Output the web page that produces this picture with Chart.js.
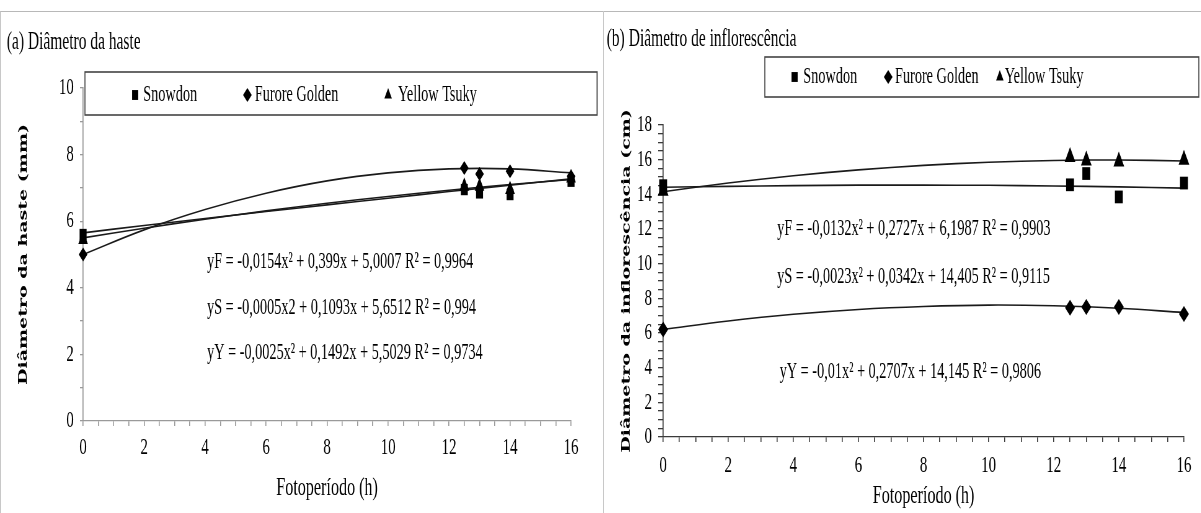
<!DOCTYPE html>
<html>
<head>
<meta charset="utf-8">
<script src="https://cdn.jsdelivr.net/npm/chart.js@4.4.1/dist/chart.umd.min.js"></script>
<style>
  html, body { margin: 0; padding: 0; background: #fff; }
  body { width: 1201px; height: 513px; position: relative; overflow: hidden; }
  .panel { position: absolute; top: 0; height: 513px; overflow: hidden; }
  #panelA { left: 0; width: 603px; }
  #panelB { left: 603px; width: 598px; }
  /* the original figure is squeezed horizontally, so the canvases are too */
  .panel canvas { position: absolute; left: 0; top: 0; transform: scaleX(0.62); transform-origin: 0 0; }
  .frame { position: absolute; left: 0; top: 11px; width: 1201px; height: 502px;
           border-top: 1px solid #b8b8b8; border-left: 1px solid #c8c8c8; box-sizing: border-box; }
  .sep { position: absolute; left: 603px; top: 11px; width: 1px; height: 502px; background: #c8c8c8; }
</style>
</head>
<body>
<div class="frame"></div>
<div class="sep"></div>
<div class="panel" id="panelA"><canvas id="chartA" width="973" height="513"></canvas></div>
<div class="panel" id="panelB"><canvas id="chartB" width="965" height="513"></canvas></div>

<script>
const hours = [0, 12.5, 13, 14, 16];
const curveHours = [0, 2, 4, 6, 8, 10, 12, 14, 16];
const cultivars = ['Snowdon', 'Furore Golden', 'Yellow Tsuky'];

// (a) stem diameter, mm
const hasteSnowdon = [5.6, 6.95, 6.85, 6.8, 7.2];
const hasteFurore  = [5.0, 7.6, 7.42, 7.5, 7.35];
const hasteYellow  = [5.45, 7.05, 7.05, 6.95, 7.3];
const hasteSnowdonCurve = [5.65, 5.87, 6.08, 6.29, 6.49, 6.69, 6.89, 7.08, 7.27];
const hasteFuroreCurve  = [5.0, 5.74, 6.35, 6.84, 7.21, 7.45, 7.57, 7.57, 7.45];
const hasteYellowCurve  = [5.5, 5.79, 6.06, 6.31, 6.54, 6.74, 6.93, 7.1, 7.25];
const hasteEquations = [
  'yF = -0,0154x² + 0,399x + 5,0007 R² = 0,9964',
  'yS = -0,0005x2 + 0,1093x + 5,6512 R² = 0,994',
  'yY = -0,0025x² + 0,1492x + 5,5029 R² = 0,9734'
];

// (b) inflorescence diameter, cm
const inflSnowdon = [14.5, 14.55, 15.2, 13.85, 14.65];
const inflFurore  = [6.2, 7.45, 7.5, 7.5, 7.1];
const inflYellow  = [14.2, 16.15, 15.95, 15.9, 16.0];
const inflSnowdonCurve = [14.41, 14.46, 14.5, 14.53, 14.53, 14.52, 14.48, 14.43, 14.36];
const inflFuroreCurve  = [6.2, 6.69, 7.08, 7.36, 7.53, 7.61, 7.57, 7.43, 7.18];
const inflYellowCurve  = [14.15, 14.65, 15.07, 15.41, 15.67, 15.85, 15.95, 15.98, 15.92];
const inflEquations = [
  'yF = -0,0132x² + 0,2727x + 6,1987 R² = 0,9903',
  'yS = -0,0023x² + 0,0342x + 14,405 R² = 0,9115',
  'yY = -0,01x² + 0,2707x + 14,145 R² = 0,9806'
];

// tick labels
const hourTicks = [0, 2, 4, 6, 8, 10, 12, 14, 16];
const hasteTicks = [0, 2, 4, 6, 8, 10];
const inflTicks = [0, 2, 4, 6, 8, 10, 12, 14, 16, 18];

const SERIF = "'Liberation Serif', 'Times New Roman', serif";
Chart.defaults.font.family = SERIF;
Chart.defaults.color = '#000';

const toPoints = (xs, ys) => xs.map((x, i) => ({ x: x, y: ys[i] }));

// legend box + regression equations, drawn over the plot like in the original
const overlayPlugin = {
  id: 'overlay',
  afterDraw(chart, args, opts) {
    const ctx = chart.ctx;
    ctx.save();
    const [bx, by, bw, bh] = opts.box;
    ctx.strokeStyle = '#444';
    ctx.lineWidth = 1.6;
    ctx.strokeRect(bx, by, bw, bh);
    ctx.fillStyle = '#000';
    ctx.textBaseline = 'middle';
    ctx.textAlign = 'left';
    ctx.font = opts.legendFont;
    opts.items.forEach((it, i) => {
      const ds = chart.data.datasets[i];
      Chart.helpers.drawPoint(ctx, { pointStyle: ds.pointStyle, radius: opts.markerRadius, rotation: 0, borderWidth: 0 }, it[0], opts.legendY);
      ctx.fillText(ds.label, it[1], opts.legendY);
    });
    ctx.font = opts.eqFont;
    opts.eqs.forEach(e => ctx.fillText(e[0], e[1], e[2]));
    ctx.restore();
  }
};

function makeChart(id, o) {
  const markerSets = [
    { label: cultivars[0], data: toPoints(hours, o.snowdon), pointStyle: 'rect', pointRadius: o.r[0] },
    { label: cultivars[1], data: toPoints(hours, o.furore), pointStyle: 'rectRot', pointRadius: o.r[1] },
    { label: cultivars[2], data: toPoints(hours, o.yellow), pointStyle: 'triangle', pointRadius: o.r[2] }
  ].map(d => Object.assign(d, {
    backgroundColor: '#000', borderColor: '#000', borderWidth: 0, showLine: false, clip: false, order: 0
  }));
  const curveSets = o.curves.map(c => ({
    label: 'trend', type: 'line', data: toPoints(curveHours, c),
    borderColor: '#1a1a1a', borderWidth: 1.6, pointRadius: 0, tension: 0.4,
    fill: false, clip: false, order: 1
  }));

  return new Chart(document.getElementById(id), {
    type: 'scatter',
    data: { datasets: markerSets.concat(curveSets) },
    plugins: [overlayPlugin],
    options: {
      responsive: false,
      devicePixelRatio: 1,
      animation: false,
      layout: { padding: { left: o.padLeft, right: o.padRight, top: 0, bottom: 0 } },
      plugins: {
        legend: { display: false },
        tooltip: { enabled: false },
        title: {
          display: true,
          text: o.title,
          align: 'start',
          color: '#000',
          font: { family: SERIF, size: 25, weight: 'normal' },
          padding: o.titlePad
        },
        overlay: o.overlay
      },
      scales: {
        x: {
          type: 'linear',
          min: 0, max: 16,
          afterFit: s => { s.height = o.xHeight; },
          ticks: {
            stepSize: 0.5, maxTicksLimit: 100, autoSkip: false, maxRotation: 0,
            padding: o.xTickPad,
            font: { size: 24 },
            callback: v => hourTicks.includes(v) ? String(v) : ''
          },
          grid: { drawOnChartArea: false, drawTicks: true, tickLength: 5, color: o.axis, lineWidth: 1.6 },
          border: { color: o.axis, width: 1.3 },
          title: {
            display: true, text: 'Fotoperíodo (h)', color: '#000',
            font: { size: 26 }, padding: { top: 0, bottom: o.xTitleBottom }
          }
        },
        y: {
          min: 0, max: o.yMax,
          afterFit: s => { s.width = o.yWidth; },
          ticks: {
            stepSize: o.yStep, maxTicksLimit: 100, autoSkip: false,
            padding: 10,
            font: { size: 24 },
            callback: v => o.yTicks.includes(v) ? String(v) : ''
          },
          grid: { drawOnChartArea: false, drawTicks: true, tickLength: o.yTickLen, color: o.axis, lineWidth: 1.3 },
          border: { color: o.axis, width: 1.7 },
          title: {
            display: true, text: o.yTitle, color: '#000',
            font: { family: "'DejaVu Serif', serif", size: 19, weight: 'bold' },
            padding: { top: o.yTitleTop, bottom: 0 }
          }
        }
      }
    }
  });
}

makeChart('chartA', {
  title: '(a) Diâmetro da haste',
  yTitle: 'Diâmetro da haste (mm)',
  snowdon: hasteSnowdon, furore: hasteFurore, yellow: hasteYellow,
  curves: [hasteSnowdonCurve, hasteFuroreCurve, hasteYellowCurve],
  r: [8, 7, 9],
  yMax: 10, yStep: 1, yTicks: hasteTicks, yTickLen: 5,
  padLeft: 11, padRight: 52, yWidth: 123, xHeight: 92,
  titlePad: { top: 27, bottom: 31 },
  xTickPad: 7, xTitleBottom: 9, yTitleTop: 16,
  axis: '#9a9a9a',
  overlay: {
    box: [137, 72, 826, 43], legendY: 95, markerRadius: 7,
    legendFont: '23px ' + SERIF,
    items: [[218, 231], [399, 411], [626, 642]],
    eqFont: '23px ' + SERIF,
    eqs: [[hasteEquations[0], 334, 262], [hasteEquations[1], 334, 308], [hasteEquations[2], 334, 353]]
  }
});

makeChart('chartB', {
  title: '(b) Diâmetro de inflorescência',
  yTitle: 'Diâmetro da inflorescência (cm)',
  snowdon: inflSnowdon, furore: inflFurore, yellow: inflYellow,
  curves: [inflSnowdonCurve, inflFuroreCurve, inflYellowCurve],
  r: [9, 8, 10],
  yMax: 18, yStep: 0.5, yTicks: inflTicks, yTickLen: 8,
  padLeft: 6, padRight: 28, yWidth: 91, xHeight: 76,
  titlePad: { top: 24, bottom: 71 },
  xTickPad: 9, xTitleBottom: 1, yTitleTop: 21,
  axis: '#3a3a3a',
  overlay: {
    box: [261, 57, 700, 40], legendY: 77, markerRadius: 7,
    legendFont: '23px ' + SERIF,
    items: [[309, 323], [460, 471], [640, 648]],
    eqFont: '23px ' + SERIF,
    eqs: [[inflEquations[0], 281, 229], [inflEquations[1], 281, 277], [inflEquations[2], 285, 372]]
  }
});
</script>
</body>
</html>
